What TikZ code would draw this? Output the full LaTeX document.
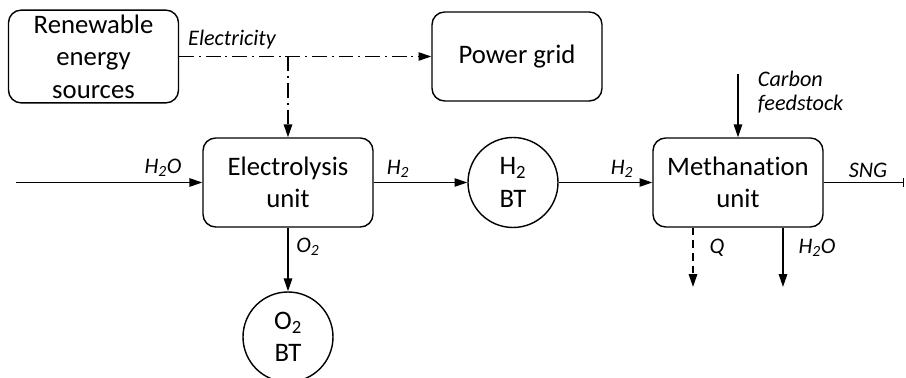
\documentclass[tikz,border=0pt]{standalone}
\usepackage{fontspec}
\setmainfont{Carlito}[Ligatures=NoCommon]
\usetikzlibrary{arrows.meta,positioning,calc}

\begin{document}
\begin{tikzpicture}[
  unitbox/.style={draw, rounded corners=9pt, line width=1pt, minimum width=4.25cm, minimum height=2.225cm, align=center, font=\fontsize{19}{23}\selectfont},
  tank/.style={draw, circle, line width=1pt, minimum size=2.25cm, inner sep=0pt, align=center, font=\fontsize{19}{23}\selectfont},
  flow/.style={line width=1pt, -{Triangle[length=3.2mm,width=2.1mm]}},
  elec/.style={dash pattern=on 10.5pt off 3.5pt on 1.4pt off 3.5pt},
  lbl/.style={font=\fontsize{15.8}{17}\selectfont\itshape}
]
  \useasboundingbox (0,0) rectangle (22.65,-9.45);
  % units and storage
  \node[unitbox] (res)  at (2.3375,-1.4125) {Renewable\\energy\\sources};
  \node[unitbox] (grid) at (12.925,-1.4125) {Power grid};
  \node[unitbox] (ely)  at (7.2,-4.5625)    {Electrolysis\\unit};
  \node[unitbox] (meth) at (18.45,-4.5625)  {Methanation\\unit};
  \node[tank] (h2bt) at (12.825,-4.5625) {H\textsubscript{2}\\BT};
  \node[tank] (o2bt) at (7.2,-8.425)     {O\textsubscript{2}\\BT};
  % free ends
  \coordinate (junc)  at (7.2,-1.4125);
  \coordinate (h2oin) at (0.4,-4.5625);
  \coordinate (cin)   at (18.45,-1.85);
  \coordinate (sng)   at (22.6,-4.5625);
  \coordinate (qout)  at (17.325,-7.175);
  \coordinate (wout)  at (19.575,-7.175);
  % electricity
  \draw[flow, elec] (res.east) -- (grid.west);
  \draw[flow, elec] (junc) -- (ely.north);
  % mass flows
  \draw[flow] (h2oin) -- (ely.west);
  \draw[flow] (ely.east) -- (h2bt.west);
  \draw[flow] (h2bt.east) -- (meth.west);
  \draw[flow] (ely.south) -- (o2bt.north);
  \draw[flow] (cin) -- (meth.north);
  \draw[line width=1pt, -{Bar[width=2.2mm]}] (meth.east) -- (sng);
  \draw[flow, dash pattern=on 5.5pt off 3.5pt] (meth.south -| qout) -- (qout);
  \draw[flow] (meth.south -| wout) -- (wout);
  % labels
  \node[lbl] at (5.8,-1.0) {Electricity};
  \node[lbl] at (4.075,-4.2) {H\textsubscript{2}O};
  \node[lbl] at (9.95,-4.225) {H\textsubscript{2}};
  \node[lbl] at (15.55,-4.225) {H\textsubscript{2}};
  \node[lbl] at (21.7,-4.25) {SNG};
  \node[lbl] at (7.7,-6.175) {O\textsubscript{2}};
  \node[lbl] at (17.925,-6.2) {Q};
  \node[lbl] at (20.425,-6.2) {H\textsubscript{2}O};
  \node[lbl, align=left, anchor=west] at (18.825,-2.3) {Carbon\\feedstock};
\end{tikzpicture}
\end{document}
